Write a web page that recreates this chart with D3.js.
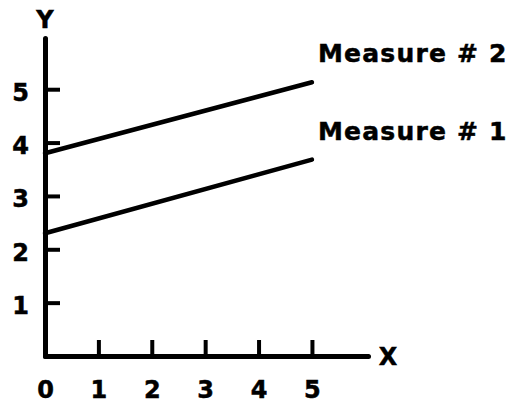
<!DOCTYPE html>
<html lang="en">
<head>
  <meta charset="UTF-8">
  <title>Measures</title>
  <script src="https://d3js.org/d3.v7.min.js"></script>
  <style>
    body { margin: 0; background: #fff; }
    text { font-family: "DejaVu Sans", sans-serif; font-weight: bold; fill: #000; stroke: #000; stroke-width: 0.5px; }
  </style>
</head>
<body>
<div class="main"></div>
<script>

  // values
  var xTicks = [0, 1, 2, 3, 4, 5];
  var yTicks = [1, 2, 3, 4, 5];
  var seriesNames = ["Measure # 1", "Measure # 2"];
  var measure1 = [{x: 0, y: 2.3}, {x: 5, y: 3.68}];
  var measure2 = [{x: 0, y: 3.8}, {x: 5, y: 5.13}];

  let width = 511, height = 405;

  let svg = d3.select(".main").append("svg")
          .attr("width", width)
          .attr("height", height)
          .style("display", "block");

  // axes run a bit past the last tick
  let xScale = d3.scaleLinear().domain([0, 6.05]).range([45, 368]);
  let yScale = d3.scaleLinear().domain([0, 5.96]).range([356, 38]);

  let xAxis = d3.axisBottom(xScale)
          .tickValues(xTicks)
          .tickFormat(d3.format("d"))
          .tickSizeInner(-16)
          .tickSizeOuter(0)
          .tickPadding(25);

  let yAxis = d3.axisLeft(yScale)
          .tickValues(yTicks)
          .tickFormat(d3.format("d"))
          .tickSizeInner(-15)
          .tickSizeOuter(0)
          .tickPadding(16);

  function draw(axis, translate, dy){
    let g = svg.append("g").attr("transform", translate).call(axis);
    g.select(".domain").style("stroke", "#000").style("stroke-width", 5).style("stroke-linecap", "round");
    g.selectAll(".tick line").style("stroke", "#000").style("stroke-width", 4);
    g.selectAll(".tick text")
            .attr("dy", dy)
            .style("font-size", "24px")
            .style("font-family", "DejaVu Sans")
            .style("font-weight", "bold")
            .attr("fill", "#000");
    return g;
  }

  let gx = draw(xAxis, `translate(0, ${yScale(0)})`, "0.71em");
  gx.selectAll(".tick").filter(d => d === 0).select("line").remove();
  draw(yAxis, `translate(${xScale(0)}, 0)`, "0.45em");

  // axis letters
  svg.append("text").attr("x", xScale(0)).attr("y", yScale(5.96) - 10).attr("text-anchor", "middle").style("font-size", "24px").text("Y");
  svg.append("text").attr("x", xScale(6.05) + 20).attr("y", yScale(0) + 9).attr("text-anchor", "middle").style("font-size", "24px").text("X");

  let line = d3.line().x(d => xScale(d.x)).y(d => yScale(d.y));
  [measure1, measure2].forEach(function(s, i){
    svg.append("path").attr("d", line(s))
            .style("fill", "none").style("stroke", "#000").style("stroke-width", 4.5).style("stroke-linecap", "round");
    let last = s[s.length - 1];
    svg.append("text")
            .attr("x", 318)
            .attr("y", yScale(last.y) - 20)
            .style("font-size", "25px")
            .style("letter-spacing", "1.2px")
            .text(seriesNames[i]);
  });

</script>
</body>
</html>
